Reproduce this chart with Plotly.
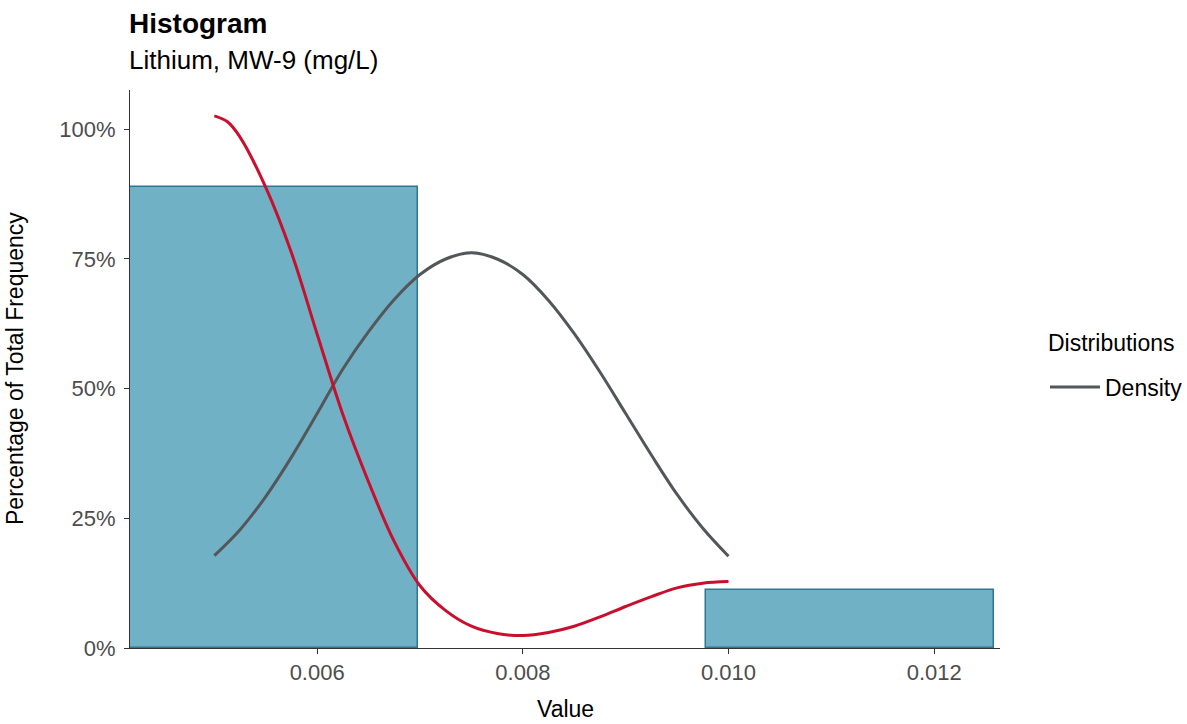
import plotly.graph_objects as go

# Histogram bins (mg/L) and share of total frequency
bin_left = [0.00418, 0.00698, 0.00978]
bin_right = [0.00698, 0.00978, 0.01258]
bin_share = [0.889, 0.0, 0.111]

# Density curve (grey)
dens_x = [0.00500, 0.00525, 0.00550, 0.00575, 0.00600, 0.00625, 0.00650, 0.00675,
          0.00700, 0.00725, 0.00750, 0.00775, 0.00800, 0.00825, 0.00850, 0.00875,
          0.00900, 0.00925, 0.00950, 0.00975, 0.01000]
dens_y = [0.178, 0.228, 0.292, 0.368, 0.452, 0.538, 0.610, 0.672,
          0.720, 0.750, 0.762, 0.750, 0.720, 0.670, 0.606, 0.532,
          0.452, 0.372, 0.296, 0.231, 0.177]

# Second curve (red), not in legend
red_x = [0.00500, 0.005125, 0.00525, 0.00550, 0.00575, 0.00600, 0.00625, 0.00650, 0.00675,
         0.00700, 0.00725, 0.00750, 0.00775, 0.00800, 0.00825, 0.00850, 0.00875,
         0.00900, 0.00925, 0.00950, 0.00975, 0.01000]
red_y = [1.026, 1.015, 0.985, 0.888, 0.762, 0.605, 0.450, 0.320, 0.205,
         0.120, 0.072, 0.042, 0.028, 0.024, 0.030, 0.042, 0.060,
         0.080, 0.099, 0.116, 0.125, 0.128]

x_ticks = [0.006, 0.008, 0.010, 0.012]
x_tick_text = ["0.006", "0.008", "0.010", "0.012"]
y_ticks = [0, 0.25, 0.5, 0.75, 1.0]
y_tick_text = ["0%", "25%", "50%", "75%", "100%"]

FONT = "Liberation Sans, Arial, sans-serif"

centers, widths, heights = [], [], []
for l, r, h in zip(bin_left, bin_right, bin_share):
    if h > 0:
        centers.append((l + r) / 2)
        widths.append(r - l)
        heights.append(h)

fig = go.Figure()
fig.add_trace(go.Bar(
    x=centers, y=heights, width=widths,
    marker=dict(color="#71B1C6", line=dict(color="#2F7690", width=1.5)),
    showlegend=False, hoverinfo="skip",
))
fig.add_trace(go.Scatter(
    x=dens_x, y=dens_y, mode="lines", name="Density",
    line=dict(color="#54575A", width=3, shape="spline", smoothing=1),
))
fig.add_trace(go.Scatter(
    x=red_x, y=red_y, mode="lines", showlegend=False,
    line=dict(color="#C8102E", width=3, shape="spline", smoothing=1),
))

fig.update_layout(
    width=1187, height=724,
    margin=dict(l=130, r=187, t=90, b=76, autoexpand=False),
    plot_bgcolor="white", paper_bgcolor="white",
    font=dict(family=FONT, color="#000000"),
    bargap=0,
    legend=dict(
        font=dict(size=23, color="#000000"),
        x=1.0517, xanchor="left", y=0.4677, yanchor="middle",
        itemwidth=50,
        bgcolor="rgba(0,0,0,0)",
    ),
    xaxis=dict(
        range=[0.00418, 0.01264],
        tickvals=x_ticks, ticktext=x_tick_text,
        showgrid=False, zeroline=False,
        showline=True, linecolor="#333333", linewidth=1,
        ticks="outside", ticklen=5, tickcolor="#333333",
        tickfont=dict(size=22, color="#4D4D4D"),
    ),
    yaxis=dict(
        range=[0, 1.0758],
        tickvals=y_ticks, ticktext=y_tick_text,
        showgrid=False, zeroline=False,
        showline=True, linecolor="#333333", linewidth=1,
        ticks="outside", ticklen=5, tickcolor="#333333",
        ticklabelstandoff=4,
        tickfont=dict(size=22, color="#4D4D4D"),
    ),
    annotations=[
        dict(text="<b>Histogram</b>", xref="paper", yref="paper", x=0, y=1,
             xanchor="left", yanchor="middle", yshift=67, xshift=-3,
             showarrow=False, font=dict(size=28, color="#000000")),
        dict(text="Lithium, MW-9 (mg/L)", xref="paper", yref="paper", x=0, y=1,
             xanchor="left", yanchor="middle", yshift=30, xshift=-3,
             showarrow=False, font=dict(size=26, color="#000000")),
        dict(text="Value", xref="paper", yref="paper", x=0.5, y=0,
             xanchor="center", yanchor="middle", yshift=-61,
             showarrow=False, font=dict(size=23, color="#000000")),
        dict(text="Percentage of Total Frequency", xref="paper", yref="paper", x=0, y=0.5,
             xanchor="center", yanchor="middle", xshift=-115, textangle=-90,
             showarrow=False, font=dict(size=23, color="#000000")),
        dict(text="Distributions", xref="paper", yref="paper", x=1.0529, y=0.5466,
             xanchor="left", yanchor="middle",
             showarrow=False, font=dict(size=23, color="#000000")),
    ],
)

fig.write_html("out.html", config={"displayModeBar": False},
               post_script="document.body.style.margin='0';")
